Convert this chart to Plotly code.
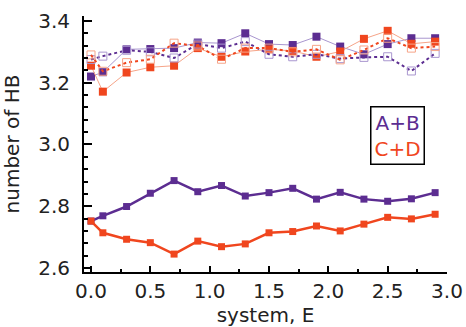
import plotly.graph_objects as go

x = [0.0, 0.1, 0.3, 0.5, 0.7, 0.9, 1.1, 1.3, 1.5, 1.7, 1.9, 2.1, 2.3, 2.5, 2.7, 2.9]

ab_low = [2.752, 2.769, 2.799, 2.842, 2.883, 2.847, 2.867, 2.833, 2.844, 2.858, 2.823, 2.845, 2.823, 2.816, 2.824, 2.844]
cd_low = [2.752, 2.714, 2.693, 2.682, 2.645, 2.687, 2.669, 2.678, 2.714, 2.718, 2.736, 2.720, 2.742, 2.764, 2.759, 2.774]

ab_top_solid = [3.220, 3.234, 3.308, 3.309, 3.312, 3.330, 3.328, 3.360, 3.325, 3.322, 3.349, 3.317, 3.292, 3.325, 3.344, 3.344]
cd_top_solid = [3.255, 3.171, 3.233, 3.250, 3.255, 3.312, 3.284, 3.301, 3.308, 3.303, 3.284, 3.301, 3.342, 3.368, 3.326, 3.333]
ab_top_dot = [3.275, 3.286, 3.305, 3.300, 3.280, 3.325, 3.312, 3.333, 3.292, 3.284, 3.292, 3.278, 3.282, 3.284, 3.238, 3.295]
cd_top_dot = [3.290, 3.237, 3.265, 3.276, 3.328, 3.319, 3.276, 3.312, 3.312, 3.300, 3.308, 3.274, 3.306, 3.344, 3.312, 3.317]

x_ticks = [0.0, 0.5, 1.0, 1.5, 2.0, 2.5, 3.0]
y_ticks = [2.6, 2.8, 3.0, 3.2, 3.4]
legend_labels = ["A+B", "C+D"]

PURPLE = "#5c2d91"
RED = "#f0461e"
PURPLE_L = "#a996cf"
RED_L = "#f6a488"
FONT = "DejaVu Sans"

fig = go.Figure()

# top: thin solid lines with filled squares
fig.add_trace(go.Scatter(x=x, y=ab_top_solid, mode="lines+markers",
                         line=dict(color=PURPLE_L, width=1),
                         marker=dict(symbol="square", size=8, color=PURPLE)))
fig.add_trace(go.Scatter(x=x, y=cd_top_solid, mode="lines+markers",
                         line=dict(color=RED_L, width=1),
                         marker=dict(symbol="square", size=8, color=RED)))
# top: dotted lines with open squares
fig.add_trace(go.Scatter(x=x, y=ab_top_dot, mode="lines+markers",
                         line=dict(color=PURPLE, width=2, dash="dot"),
                         marker=dict(symbol="square-open", size=8, color=PURPLE_L,
                                     line=dict(width=1, color=PURPLE_L))))
fig.add_trace(go.Scatter(x=x, y=cd_top_dot, mode="lines+markers",
                         line=dict(color=RED, width=2, dash="dot"),
                         marker=dict(symbol="square-open", size=8, color=RED_L,
                                     line=dict(width=1, color=RED_L))))
# bottom: thick lines
fig.add_trace(go.Scatter(x=x, y=ab_low, mode="lines+markers",
                         line=dict(color=PURPLE, width=2.5),
                         marker=dict(symbol="square", size=7, color=PURPLE)))
fig.add_trace(go.Scatter(x=x, y=cd_low, mode="lines+markers",
                         line=dict(color=RED, width=2.5),
                         marker=dict(symbol="square", size=7, color=RED)))

fig.add_annotation(
    x=2.587, y=3.029, xref="x", yref="y", showarrow=False,
    text=f"<span style='color:{PURPLE}'>{legend_labels[0]}</span><br>"
         f"<span style='color:{RED}'>{legend_labels[1]}</span>",
    font=dict(family=FONT, size=20),
    bordercolor="black", borderwidth=1.5, borderpad=3, bgcolor="white",
)

fig.update_layout(
    width=466, height=327,
    margin=dict(l=84, r=19, t=16, b=55),
    plot_bgcolor="white", paper_bgcolor="white",
    showlegend=False,
    font=dict(family=FONT, size=20, color="#222"),
)
fig.update_xaxes(
    range=[-0.059, 3.0], tickvals=x_ticks, tickformat=".1f",
    ticks="inside", ticklen=6, tickwidth=1.5, tickcolor="black",
    showline=True, linecolor="black", linewidth=2, showgrid=False, zeroline=False,
    minor=dict(dtick=0.25, tick0=0, ticks="inside", ticklen=3, tickcolor="black", tickwidth=1.5, showgrid=False),
    title=dict(text="system, E", font=dict(size=20)),
    automargin=False,
)
fig.update_yaxes(
    range=[2.587, 3.416], tickvals=y_ticks, tickformat=".1f",
    ticks="inside", ticklen=8, tickwidth=1.5, tickcolor="black",
    showline=True, linecolor="black", linewidth=2, showgrid=False, zeroline=False,
    minor=dict(dtick=0.04, tick0=2.6, ticks="inside", ticklen=4, tickcolor="black", tickwidth=1.5, showgrid=False),
    ticklabelstandoff=8,
    title=dict(text="number of HB", font=dict(size=20)),
    automargin=False,
)

fig.write_html("out.html", config={"displayModeBar": False},
               post_script="document.body.style.margin='0';document.body.style.overflow='hidden';")
